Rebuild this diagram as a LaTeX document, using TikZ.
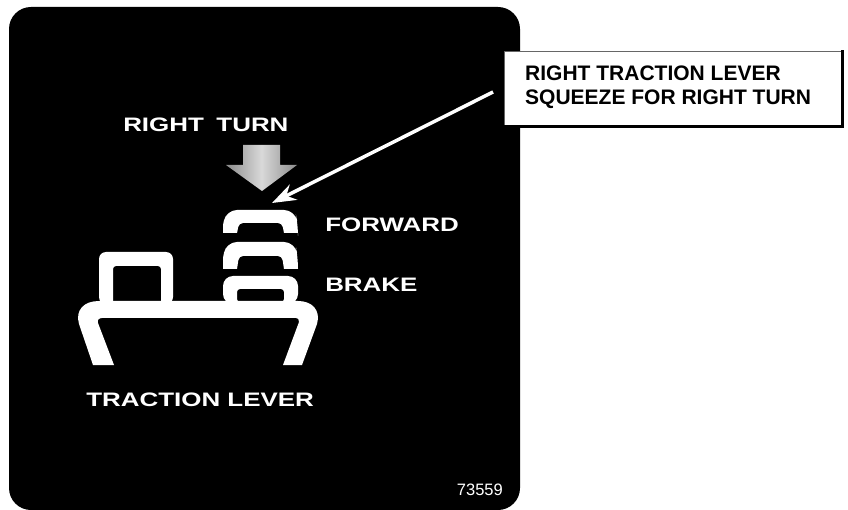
\documentclass[tikz,border=0pt]{standalone}
\usepackage{fontspec}
\setmainfont{Liberation Sans}
\usetikzlibrary{arrows.meta}
\tikzset{
  signtext/.style={text=white,font=\bfseries\fontsize{19.5}{19.5}\selectfont,inner sep=0pt,anchor=west,xscale=1.33,transform shape},
  leverpart/.style={fill=white,draw=none,even odd rule},
  callouttext/.style={font=\bfseries\fontsize{21}{24}\selectfont,align=left,inner sep=0pt,anchor=west},
}
\begin{document}
\begin{tikzpicture}[x=1pt,y=-1pt]
\useasboundingbox (0,0) rectangle (848,510);
\fill[white] (0,0) rectangle (848,510);
% sign plate
\fill[black,rounded corners=22pt] (9,7) rectangle (520,510);
% gray arrow
\shade[left color=black!45,right color=black!45,middle color=black!15] (243,145) -- (280,145) -- (280,165) -- (297,165) -- (262,191) -- (226,165) -- (243,165) -- cycle;
% left inner lever
\path[leverpart,rounded corners=7pt] (99,304) -- (99,252) -- (173,252) -- (173,304) -- cycle
  [rounded corners=3pt] (113,304) -- (113,266) -- (161,266) -- (161,304) -- cycle;
% forward lever
\fill[white,rounded corners=9pt] (223,233) [sharp corners] -- (223,225) [rounded corners=11pt] -- (226,210) -- (295,210) -- (298,225) [sharp corners] -- (298,233) -- (284,233) [rounded corners=4pt] -- (282,223) -- (239,223) [sharp corners] -- (237,233) -- cycle;
% brake lever upper
\fill[white,rounded corners=9pt] (223,269) [sharp corners] -- (223,258) [rounded corners=11pt] -- (226,242) -- (295,242) -- (298,258) [sharp corners] -- (298,269) -- (284,269) [rounded corners=4pt] -- (282,256) -- (239,256) [sharp corners] -- (237,269) -- cycle;
% brake lever lower
\path[leverpart,rounded corners=10pt] (223,304) -- (223,276) -- (298,276) -- (298,304) -- cycle
  [rounded corners=3pt] (237,302) -- (237,289) -- (284,289) -- (284,302) -- cycle;
% main lever
\fill[white] (93,365) -- (79,324) .. controls (75,310) and (84,301) .. (99,301) -- (298,301) .. controls (312,301) and (321,310) .. (317,324) -- (302,365) -- (283,365) -- (299,322) .. controls (299,319) and (298,318) .. (296,318) -- (102,318) .. controls (99,318) and (97,320) .. (98,323) -- (114,365) -- cycle;
% texts
\node[signtext] (rt) at (123,125) {RIGHT\hspace{4pt} TURN};
\node[signtext] (fw) at (325,225) {FORWARD};
\node[signtext] (br) at (325,285) {BRAKE};
\node[signtext] (tl) at (86,400) {TRACTION LEVER};
\node[text=white,font=\fontsize{16.5}{16.5}\selectfont,inner sep=0pt,anchor=east] (num) at (503,490) {73559};
% callout
\node[fill=white,draw=black!60,line width=0.7pt,minimum width=338pt,minimum height=75pt,anchor=north west,inner sep=0pt] (box) at (504,51) {};
\draw[black,line width=2.5pt,line cap=rect] (box.south west) -- (box.south east) -- (box.north east);
\node[callouttext] (cap) at (525,87) {RIGHT TRACTION LEVER\\SQUEEZE FOR RIGHT TURN};
\coordinate (from) at (493,92);
\coordinate (tip) at (272,203);
\draw[white,line width=3.5pt,-{Stealth[length=24pt,width=17pt,inset=8pt]}] (from) -- (tip);
\end{tikzpicture}
\end{document}
